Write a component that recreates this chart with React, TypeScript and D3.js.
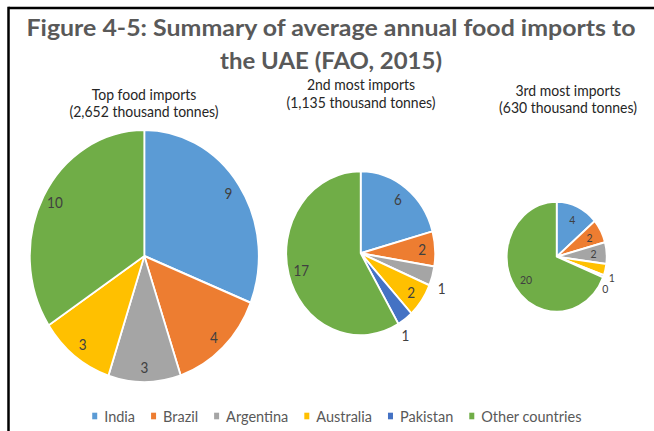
import React from "react";
import * as d3 from "d3";

const categories = ["India", "Brazil", "Argentina", "Australia", "Pakistan", "Other countries"];
const sliceColors = ["#5B9BD5", "#ED7D31", "#A5A5A5", "#FFC000", "#4472C4", "#70AD47"];
const titleLines = ["Figure 4-5: Summary of average annual food imports to", "the UAE (FAO, 2015)"];
const pieTitles = ["Top food imports", "2nd most imports", "3rd most imports"];
const pieTotals = ["(2,652 thousand tonnes)", "(1,135 thousand tonnes)", "(630 thousand tonnes)"];
const topImports: (number | null)[] = [9.0, 4.0, 2.96, 3.09, null, 9.93];
const secondImports: (number | null)[] = [6.0, 2.0, 1.1, 1.95, 1.0, 16.95];
const thirdImports: (number | null)[] = [4.0, 2.03, 1.85, 0.97, 0.2, 20.0];

const W = 654;
const H = 431;
const SY = 1.1; // vertical stretch of the source picture
const FONT = "Lato, 'Open Sans', sans-serif";

const pieLayouts = [
  { values: topImports, cx: 144.3, cy: 256, r: 114.5, fs: 13.5, tx: 144, ty: [100, 117] },
  { values: secondImports, cx: 360.7, cy: 253.3, r: 74.5, fs: 13.5, tx: 361, ty: [90, 107.5] },
  { values: thirdImports, cx: 556.7, cy: 256.7, r: 50, fs: 10.5, tx: 568, ty: [96, 113] },
];

function measure(text: string, font: string): number {
  const c = document.createElement("canvas");
  const ctx = c.getContext("2d");
  if (!ctx) return text.length * 7;
  ctx.font = font;
  return ctx.measureText(text).width;
}

function Pie({ layout }: { layout: any }) {
  const data = layout.values.map((v: number | null, i: number) => ({ v: v ?? 0, shown: v !== null, i }));
  const total = d3.sum(data, (d: any) => d.v);
  const arcs = d3.pie<any>().sort(null).value((d: any) => d.v)(data);
  const arcGen = d3.arc<any>().innerRadius(0).outerRadius(layout.r);
  const labels: { x: number; y: number; text: string }[] = [];
  const outsidePlaced: { x: number; y: number }[] = [];
  arcs.forEach((a: any) => {
    if (!a.data.shown) return;
    const frac = a.data.v / total;
    let mid = (a.startAngle + a.endAngle) / 2;
    let rr: number;
    if (frac < 0.045) {
      mid += 0.1;
      rr = layout.r * 1.17;
      let x = rr * Math.sin(mid);
      let y = -rr * Math.cos(mid) * SY;
      let guard = 0;
      while (outsidePlaced.some((p) => Math.hypot(p.x - x, p.y - y) < 11) && guard < 20) {
        mid += 0.04;
        rr -= 0.8;
        x = rr * Math.sin(mid);
        y = -rr * Math.cos(mid) * SY;
        guard++;
      }
      outsidePlaced.push({ x, y });
      labels.push({ x, y, text: d3.format(".0f")(a.data.v) });
    } else {
      rr = layout.r - 13;
      labels.push({ x: rr * Math.sin(mid), y: -rr * Math.cos(mid) * SY, text: d3.format(".0f")(a.data.v) });
    }
  });
  return (
    <g>
      <g transform={`translate(${layout.cx},${layout.cy}) scale(1,${SY})`}>
        {arcs.map((a: any, i: number) =>
          a.data.v > 0 ? (
            <path key={i} d={arcGen(a) as string} fill={sliceColors[a.data.i]} stroke="#fff" strokeWidth={1.8} strokeLinejoin="round" />
          ) : null
        )}
      </g>
      {labels.map((l, i) => (
        <text
          key={i}
          transform={`translate(${layout.cx + l.x},${layout.cy + l.y}) scale(1,${SY})`}
          textAnchor="middle"
          dy="0.36em"
          fontSize={layout.fs}
          fill="#404040"
          fontFamily={FONT}
        >
          {l.text}
        </text>
      ))}
    </g>
  );
}

export default function App() {
  const legendFont = `14.5px ${FONT}`;
  const sq = 5;
  const sqGap = 7;
  const itemGap = 16;
  const widths = categories.map((c) => measure(c, legendFont));
  const totalW = d3.sum(widths) + categories.length * (sq + sqGap) + (categories.length - 1) * itemGap;
  let lx = 337 - totalW / 2;
  const legendItems = categories.map((c, i) => {
    const x = lx;
    lx += sq + sqGap + widths[i] + itemGap;
    return { c, x, color: sliceColors[i] };
  });
  const legendY = 416;

  return (
    <svg width={W} height={H} style={{ position: "absolute", left: 0, top: 0, background: "#fff" }}>
      <rect x={0} y={0} width={W} height={H} fill="#fff" />
      <line x1={8.5} y1={8} x2={W} y2={8} stroke="#000" strokeWidth={2.5} />
      <line x1={8.5} y1={6.75} x2={8.5} y2={H} stroke="#000" strokeWidth={2.5} />
      {titleLines.map((t, i) => (
        <text
          key={i}
          transform={`translate(331,${i === 0 ? 36 : 69}) scale(1,${SY})`}
          textAnchor="middle"
          fontSize={21}
          fontWeight="bold"
          fill="#595959"
          fontFamily={FONT}
          textLength={i === 0 ? 609 : 222}
          lengthAdjust="spacingAndGlyphs"
        >
          {t}
        </text>
      ))}
      {pieLayouts.map((p, i) => (
        <g key={i}>
          <text transform={`translate(${p.tx},${p.ty[0]}) scale(1,${SY})`} textAnchor="middle" fontSize={14} fill="#262626" fontFamily={FONT}>
            {pieTitles[i]}
          </text>
          <text transform={`translate(${p.tx},${p.ty[1]}) scale(1,${SY})`} textAnchor="middle" fontSize={14} fill="#262626" fontFamily={FONT}>
            {pieTotals[i]}
          </text>
          <Pie layout={p} />
        </g>
      ))}
      {legendItems.map((it, i) => (
        <g key={i}>
          <rect x={it.x} y={legendY - 3.3} width={sq} height={6.6} fill={it.color} />
          <text
            transform={`translate(${it.x + sq + sqGap},${legendY}) scale(1,${SY})`}
            dy="0.36em"
            fontSize={14.5}
            fill="#595959"
            fontFamily={FONT}
          >
            {it.c}
          </text>
        </g>
      ))}
    </svg>
  );
}
